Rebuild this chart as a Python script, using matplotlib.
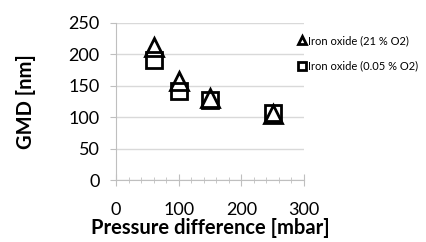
import matplotlib.pyplot as plt

# data
pressure = [60, 100, 150, 250]
gmd_21 = [212, 157, 130, 105]      # Iron oxide (21 % O2)
gmd_005 = [191, 141, 128, 106]     # Iron oxide (0.05 % O2)

plt.rcParams['font.family'] = ['Lato', 'DejaVu Sans']

fig = plt.figure(figsize=(4.27, 2.42), dpi=100)
ax = fig.add_axes([0.272, 0.256, 0.44, 0.65])

ax.plot(pressure, gmd_21, linestyle='none', marker='^', markersize=13,
        markerfacecolor='white', markeredgecolor='black', markeredgewidth=2,
        label='Iron oxide (21 % O2)', zorder=3)
ax.plot(pressure, gmd_005, linestyle='none', marker='s', markersize=12,
        markerfacecolor='none', markeredgecolor='black', markeredgewidth=2,
        label='Iron oxide (0.05 % O2)', zorder=4)

ax.set_xlim(0, 300)
ax.set_ylim(0, 250)
ax.set_xticks([0, 100, 200, 300])
ax.set_xticks(range(0, 301, 20), minor=True)
ax.set_yticks(range(0, 251, 50))

ax.grid(axis='y', color='#d9d9d9', linewidth=1)
ax.set_axisbelow(True)
for s in ['top', 'right']:
    ax.spines[s].set_visible(False)
ax.spines['left'].set_color('#bfbfbf')
ax.spines['bottom'].set_color('#bfbfbf')

ax.tick_params(axis='y', which='major', length=4, color='#bfbfbf', labelsize=13, pad=8)
ax.tick_params(axis='x', which='major', direction='inout', length=8, color='#bfbfbf',
               labelsize=13, pad=12)
ax.tick_params(axis='x', which='minor', direction='inout', length=4, color='#bfbfbf')

ax.set_xlabel('Pressure difference [mbar]', fontsize=14.5, fontweight='bold', labelpad=0)
ax.set_ylabel('GMD [nm]', fontsize=14.5, fontweight='bold', labelpad=23)

ax.legend(loc='upper left', bbox_to_anchor=(0.95, 0.95), frameon=False, fontsize=8,
          markerscale=0.45, handlelength=0.5, handletextpad=0.3, labelspacing=1.3,
          borderaxespad=0)

fig.savefig('out.png', dpi=100)
